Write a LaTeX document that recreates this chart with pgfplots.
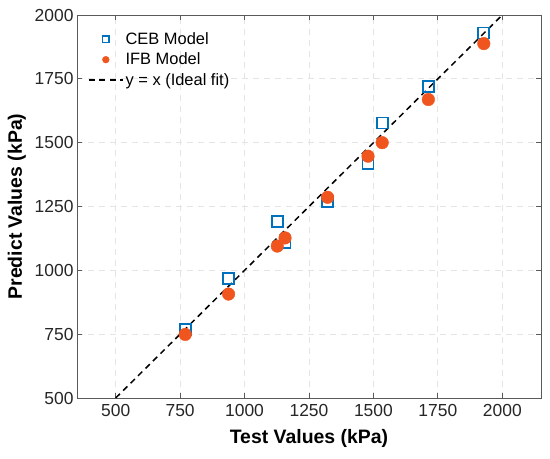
\documentclass[border=0pt]{standalone}
\usepackage{fontspec}
\setmainfont{Liberation Sans}
\usepackage{pgfplots}
\pgfplotsset{compat=1.18}
\definecolor{cebblue}{RGB}{0,114,189}
\definecolor{ifborange}{RGB}{240,85,30}
\definecolor{gridgray}{RGB}{228,228,228}
\definecolor{framegray}{RGB}{90,90,90}
\begin{document}
\begin{tikzpicture}
\begin{axis}[
  scale only axis,
  width=464bp, height=383bp,
  xmin=350, xmax=2150, ymin=500, ymax=2000,
  xtick={500,750,1000,1250,1500,1750,2000},
  ytick={500,750,1000,1250,1500,1750,2000},
  /pgf/number format/assume math mode=true,
  /pgf/number format/set thousands separator={},
  tick label style={font=\fontsize{17.5}{19}\selectfont, text=black!85},
  xticklabel style={yshift=-3bp},
  xlabel={\textbf{Test Values (kPa)}},
  ylabel={\textbf{Predict Values (kPa)}},
  label style={font=\fontsize{19.5}{21}\selectfont},
  xlabel style={yshift=-6bp},
  ylabel style={yshift=2bp},
  axis line style={framegray, line width=0.9bp},
  tick style={framegray, line width=0.9bp},
  tick align=inside,
  major tick length=5bp,
  grid=major,
  major grid style={gridgray, line width=0.9bp, dash pattern=on 6bp off 5bp},
  legend style={draw=none, fill=none, at={(0.017,0.965)}, anchor=north west,
    font=\fontsize{16.5}{18}\selectfont, row sep=3bp},
  legend cell align=left,
  legend image code/.code={\draw[mark repeat=2,mark phase=2] plot coordinates {(0cm,0cm) (0.6cm,0cm) (1.2cm,0cm)};},
  legend image post style={mark size=3.4bp},
]
\addplot[only marks, mark=square, mark size=5.5bp, draw=cebblue, line width=1.6bp]
 coordinates {(770,769) (938,968) (1127,1192) (1157,1109) (1322,1270) (1479,1418) (1534,1577) (1713,1721) (1928,1929)};
\addlegendentry{CEB Model}
\addplot[only marks, mark=*, mark size=6.3bp, draw=ifborange, fill=ifborange]
 coordinates {(770,749) (938,907) (1127,1095) (1157,1127) (1322,1286) (1479,1447) (1534,1500) (1713,1669) (1928,1888)};
\addlegendentry{IFB Model}
\addplot[black, line width=1.5bp, dash pattern=on 6bp off 4.5bp, no marks]
 coordinates {(500,500) (2000,2000)};
\addlegendentry{y = x (Ideal fit)}
\end{axis}
\pgfresetboundingbox
\path (-77bp,-61bp) rectangle (473bp,398bp);
\end{tikzpicture}
\end{document}
